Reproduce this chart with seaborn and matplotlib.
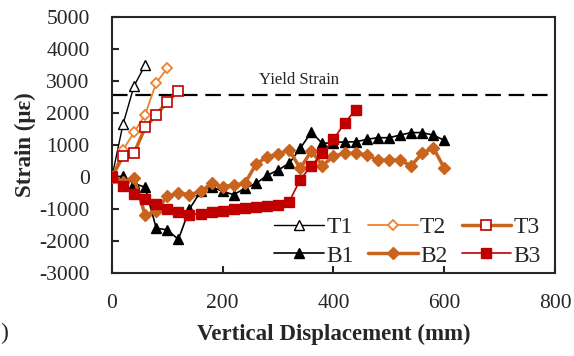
import numpy as np
import pandas as pd
import matplotlib as mpl
import matplotlib.pyplot as plt
import seaborn as sns
from matplotlib.lines import Line2D

sns.set_style('ticks')
plt.rcParams['font.family'] = ['Liberation Serif', 'DejaVu Serif']
plt.rcParams['axes.unicode_minus'] = False

# DATA
t1_x = [0, 20, 40, 60]
t1_y = [0, 1650, 2850, 3500]

t2_x = [0, 20, 40, 60, 80, 100]
t2_y = [0, 850, 1400, 1950, 2950, 3400]

t3_x = [0, 20, 40, 60, 80, 100, 120]
t3_y = [0, 650, 750, 1550, 1950, 2350, 2700]

b1_x = list(range(0, 620, 20))
b1_y = [0, 30, -200, -320, -1600, -1650, -1950, -1000, -450, -300, -450,
        -550, -350, -200, 50, 220, 430, 900, 1400, 1050, 1080, 1100, 1100,
        1180, 1230, 1230, 1310, 1390, 1390, 1310, 1150]

b2_x = list(range(0, 620, 20))
b2_y = [0, -150, -20, -1200, -1050, -600, -500, -550, -450, -200, -300,
        -250, -200, 400, 630, 720, 850, 270, 820, 360, 650, 740, 740,
        690, 530, 530, 530, 350, 740, 920, 280]

b3_x = list(range(0, 460, 20))
b3_y = [0, -280, -530, -670, -840, -1000, -1100, -1180, -1140, -1080, -1050,
        -1010, -980, -930, -900, -880, -770, -80, 360, 740, 1180, 1680, 2110]

yield_strain = 2550
labels = ['T1', 'T2', 'T3', 'B1', 'B2', 'B3']

# STYLES
black = '#000000'
light_orange = '#F0802E'
dark_orange = '#C8641E'
red = '#C00000'

styles = {
    'T1': dict(color=black, lw=1.0, marker='^', ms=7.5, mfc='white', mec=black, mew=1.0),
    'T2': dict(color=light_orange, lw=1.3, marker='D', ms=5.5, mfc='white', mec=light_orange, mew=1.3),
    'T3': dict(color=dark_orange, lw=2.5, marker='s', ms=7.5, mfc='white', mec=red, mew=1.2),
    'B1': dict(color=black, lw=1.2, marker='^', ms=7.5, mfc=black, mec=black, mew=1.0),
    'B2': dict(color=dark_orange, lw=2.5, marker='D', ms=6.5, mfc=dark_orange, mec=dark_orange, mew=1.0),
    'B3': dict(color=red, lw=1.2, marker='s', ms=7.5, mfc=red, mec=red, mew=1.0),
}
series = {'T1': (t1_x, t1_y), 'T2': (t2_x, t2_y), 'T3': (t3_x, t3_y),
          'B1': (b1_x, b1_y), 'B2': (b2_x, b2_y), 'B3': (b3_x, b3_y)}

fig = plt.figure(figsize=(5.74, 3.56), dpi=100)
ax = fig.add_axes([0.195, 0.233, 0.772, 0.719])

ax.axhline(yield_strain, color=black, lw=1.6, dashes=(7, 3.5), zorder=1)
ax.text(265, yield_strain + 220, 'Yield Strain', fontsize=12, va='bottom', ha='left')

handles = {}
for name in labels:
    x, y = series[name]
    st = styles[name]
    df = pd.DataFrame({'x': x, 'y': y})
    sns.lineplot(data=df, x='x', y='y', ax=ax, sort=False, color=st['color'],
                 lw=st['lw'], marker=st['marker'], markersize=st['ms'],
                 markerfacecolor=st['mfc'], markeredgecolor=st['mec'],
                 markeredgewidth=st['mew'], zorder=3)
    handles[name] = Line2D([], [], color=st['color'], lw=st['lw'], marker=st['marker'],
                           markersize=st['ms'], markerfacecolor=st['mfc'],
                           markeredgecolor=st['mec'], markeredgewidth=st['mew'])

order = ['T1', 'B1', 'T2', 'B2', 'T3', 'B3']
leg = ax.legend([handles[k] for k in order], order, ncol=3, frameon=False,
                loc='lower right', bbox_to_anchor=(1.0, -0.03), fontsize=17,
                handlelength=2.1, handletextpad=0.1, columnspacing=0.6,
                labelspacing=0.3, borderaxespad=0.2)

ax.set_xlim(0, 800)
ax.set_ylim(-3000, 5000)
ax.set_xticks([0, 200, 400, 600, 800])
ax.set_yticks(np.arange(-3000, 5001, 1000))
ax.tick_params(axis='both', direction='in', length=5, width=1.5, labelsize=15.5)
ax.tick_params(axis='x', pad=15)
ax.tick_params(axis='y', pad=16)
for sp in ax.spines.values():
    sp.set_linewidth(1.5)
    sp.set_visible(True)

ax.set_xlabel('Vertical Displacement (mm)', fontsize=16.5, fontweight='bold', labelpad=8)
ax.set_ylabel('Strain (με)', fontsize=16.5, fontweight='bold', labelpad=2)

fig.text(0.0, 0.062, ')', fontsize=17, va='center', ha='left')

fig.savefig('out.png', dpi=100)
